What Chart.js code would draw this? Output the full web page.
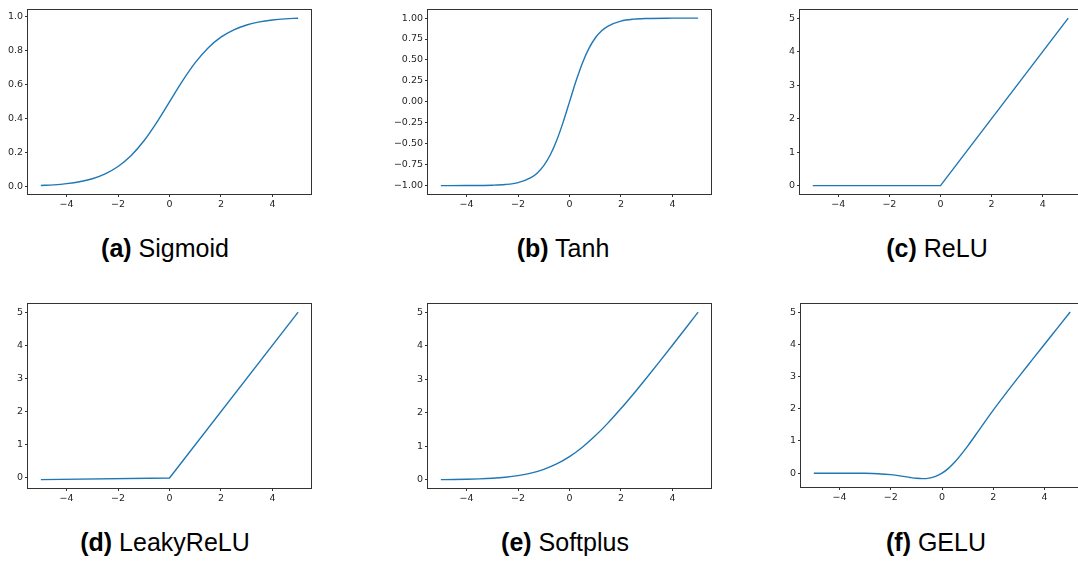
<!DOCTYPE html>
<html>
<head>
<meta charset="utf-8">
<script src="https://cdn.jsdelivr.net/npm/chart.js@4.4.1/dist/chart.umd.min.js"></script>
<style>
  html, body { margin: 0; padding: 0; background: #fff; overflow: hidden; }
  body { width: 1078px; height: 563px; position: relative; }
  .panel { position: absolute; }
  .caption {
    position: absolute; width: 300px; text-align: center;
    font-family: "Liberation Sans", Arial, sans-serif; font-size: 25px;
    line-height: 25px; color: #000; white-space: nowrap;
  }
  .caption b { font-weight: bold; }
</style>
</head>
<body>
<div class="panel" id="pa"><canvas id="ca"></canvas></div>
<div class="panel" id="pb"><canvas id="cb"></canvas></div>
<div class="panel" id="pc"><canvas id="cc"></canvas></div>
<div class="panel" id="pd"><canvas id="cd"></canvas></div>
<div class="panel" id="pe"><canvas id="ce"></canvas></div>
<div class="panel" id="pf"><canvas id="cf"></canvas></div>

<div class="caption" style="left:15px;top:236px"><b>(a)</b> Sigmoid</div>
<div class="caption" style="left:413px;top:236px"><b>(b)</b> Tanh</div>
<div class="caption" style="left:787px;top:236px"><b>(c)</b> ReLU</div>
<div class="caption" style="left:15px;top:530px"><b>(d)</b> LeakyReLU</div>
<div class="caption" style="left:415px;top:530px"><b>(e)</b> Softplus</div>
<div class="caption" style="left:786px;top:530px"><b>(f)</b> GELU</div>

<script>
'use strict';

// x samples shared by the smooth curves
let xs = [-5, -4.5, -4, -3.5, -3, -2.5, -2, -1.5, -1, -0.5, 0, 0.5, 1, 1.5, 2, 2.5, 3, 3.5, 4, 4.5, 5];

let sigmoidY = [0.007, 0.011, 0.018, 0.029, 0.047, 0.076, 0.119, 0.182, 0.269, 0.378, 0.5,
                0.622, 0.731, 0.818, 0.881, 0.924, 0.953, 0.971, 0.982, 0.989, 0.993];
let softplusY = [0.007, 0.011, 0.018, 0.030, 0.049, 0.079, 0.127, 0.201, 0.313, 0.474, 0.693,
                 0.974, 1.313, 1.701, 2.127, 2.579, 3.049, 3.530, 4.018, 4.511, 5.007];

// tanh is steep around 0, so it gets extra samples there
let tanhX = [-5, -4, -3, -2.5, -2, -1.5, -1.25, -1, -0.75, -0.5, -0.25, 0,
             0.25, 0.5, 0.75, 1, 1.25, 1.5, 2, 2.5, 3, 4, 5];
let tanhY = [-1.0, -0.999, -0.995, -0.987, -0.964, -0.905, -0.848, -0.762, -0.635, -0.462, -0.245, 0,
             0.245, 0.462, 0.635, 0.762, 0.848, 0.905, 0.964, 0.987, 0.995, 0.999, 1.0];

// gelu has its dip near -0.75
let geluX = [-5, -4.5, -4, -3.5, -3, -2.5, -2, -1.5, -1.25, -1, -0.75, -0.5, -0.25, 0,
             0.25, 0.5, 1, 1.5, 2, 2.5, 3, 3.5, 4, 4.5, 5];
let geluY = [0, 0, 0, -0.001, -0.004, -0.016, -0.045, -0.100, -0.132, -0.159, -0.170, -0.154, -0.100, 0,
             0.150, 0.346, 0.841, 1.400, 1.955, 2.484, 2.996, 3.499, 4.0, 4.5, 5.0];

// piecewise linear ones
let kinkX = [-5, 0, 5];
let reluY = [0, 0, 5];
let leakyY = [-0.05, 0, 5];

// ticks
let xTicks = [-4, -2, 0, 2, 4];
let sigmoidTicks = [0.0, 0.2, 0.4, 0.6, 0.8, 1.0];
let sigmoidTickLabels = ['0.0', '0.2', '0.4', '0.6', '0.8', '1.0'];
let tanhTicks = [-1, -0.75, -0.5, -0.25, 0, 0.25, 0.5, 0.75, 1];
let tanhTickLabels = ['\u22121.00', '\u22120.75', '\u22120.50', '\u22120.25', '0.00', '0.25', '0.50', '0.75', '1.00'];
let intTicks = [0, 1, 2, 3, 4, 5];
let intTickLabels = ['0', '1', '2', '3', '4', '5'];

const PAD_L = 40, PAD_T = 5, PAD_R = 5, PAD_B = 22;
const tickFont = { family: 'DejaVu Sans', size: 9.5 };
const tickColor = '#262626';
const spineColor = '#333333';

let frame = {
    id: 'frame',
    afterDatasetsDraw(chart) {
        let a = chart.chartArea;
        let ctx = chart.ctx;
        ctx.save();
        ctx.strokeStyle = spineColor;
        ctx.lineWidth = 1;
        let l = Math.round(a.left) - 0.5, t = Math.round(a.top) - 0.5;
        let r = Math.round(a.right) + 0.5, b = Math.round(a.bottom) + 0.5;
        ctx.strokeRect(l, t, r - l, b - t);
        ctx.restore();
    }
};

let minus = function (v) {
    return v < 0 ? '\u2212' + Math.abs(v) : String(v);
};

let makePanel = function (id, box, xData, yData, yMin, yMax, yTicks, yLabels, tension) {
    let w = box[2] - box[0], h = box[3] - box[1];
    let div = document.getElementById('p' + id);
    div.style.left = (box[0] - PAD_L) + 'px';
    div.style.top = (box[1] - PAD_T) + 'px';
    let cv = document.getElementById('c' + id);
    cv.width = w + PAD_L + PAD_R;
    cv.height = h + PAD_T + PAD_B;
    cv.style.width = cv.width + 'px';
    cv.style.height = cv.height + 'px';

    let pts = xData.map((x, i) => ({ x: x, y: yData[i] }));
    return new Chart(cv.getContext('2d'), {
        type: 'line',
        data: {
            datasets: [{
                data: pts,
                borderColor: '#1f77b4',
                borderWidth: 1.4,
                pointRadius: 0,
                fill: false,
                tension: tension,
                cubicInterpolationMode: tension ? 'monotone' : 'default'
            }]
        },
        options: {
            responsive: false,
            animation: false,
            events: [],
            layout: { padding: { left: 0, top: PAD_T, right: PAD_R, bottom: 0 } },
            plugins: { legend: { display: false }, tooltip: { enabled: false } },
            scales: {
                x: {
                    type: 'linear', min: -5.5, max: 5.5,
                    afterFit: s => { s.height = PAD_B; },
                    afterBuildTicks: s => { s.ticks = xTicks.map(v => ({ value: v })); },
                    border: { display: false },
                    grid: { drawOnChartArea: false, drawTicks: true, tickLength: 3, color: spineColor },
                    ticks: { font: tickFont, color: tickColor, padding: 2, maxRotation: 0, callback: v => minus(v) }
                },
                y: {
                    type: 'linear', min: yMin, max: yMax,
                    afterFit: s => { s.width = PAD_L; },
                    afterBuildTicks: s => { s.ticks = yTicks.map(v => ({ value: v })); },
                    border: { display: false },
                    grid: { drawOnChartArea: false, drawTicks: true, tickLength: 3, color: spineColor },
                    ticks: {
                        font: tickFont, color: tickColor, padding: 2,
                        callback: function (v) {
                            let i = yTicks.indexOf(v);
                            return i >= 0 ? yLabels[i] : '';
                        }
                    }
                }
            }
        },
        plugins: [frame]
    });
};

makePanel('a', [28, 7, 311, 194], xs, sigmoidY, -0.043, 1.043, sigmoidTicks, sigmoidTickLabels, 0.4);
makePanel('b', [428, 7, 711, 194], tanhX, tanhY, -1.1, 1.1, tanhTicks, tanhTickLabels, 0.4);
makePanel('c', [800, 7, 1081, 194], kinkX, reluY, -0.25, 5.25, intTicks, intTickLabels, 0);
makePanel('d', [28, 301, 311, 488], kinkX, leakyY, -0.3025, 5.2525, intTicks, intTickLabels, 0);
makePanel('e', [428, 301, 711, 488], xs, softplusY, -0.243, 5.257, intTicks, intTickLabels, 0.4);
makePanel('f', [801, 301, 1083, 487], geluX, geluY, -0.4285, 5.2585, intTicks, intTickLabels, 0.4);
</script>
</body>
</html>
